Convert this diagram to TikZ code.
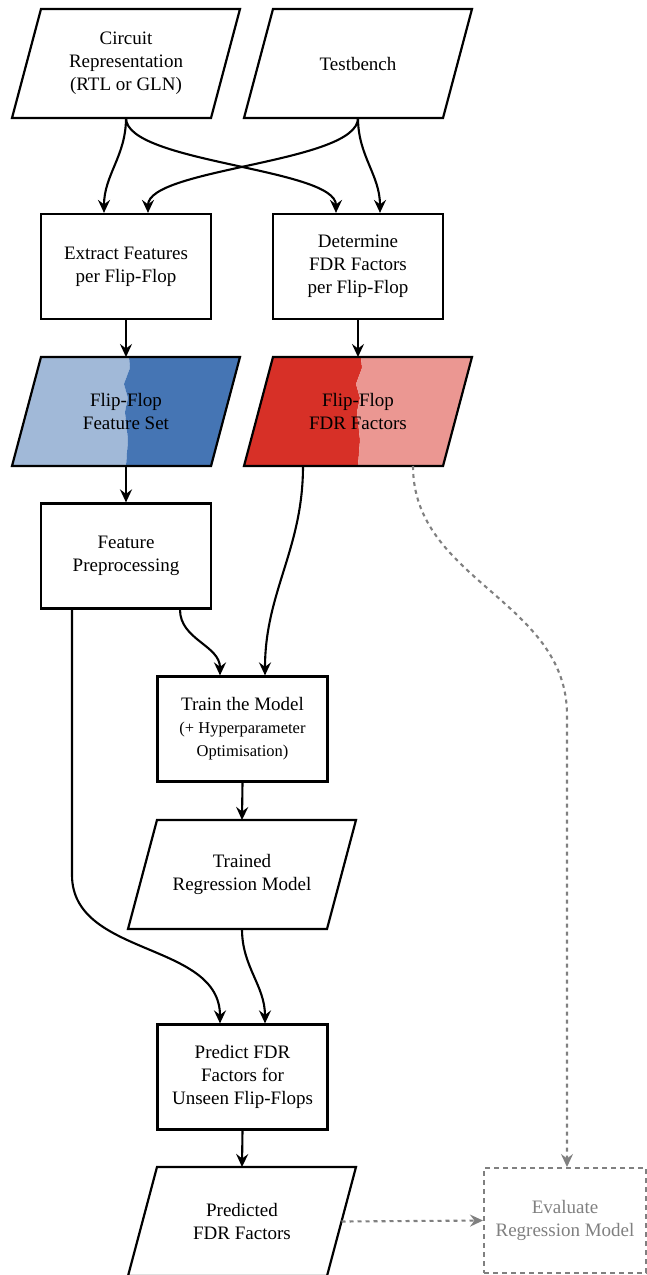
\documentclass[tikz,border=0pt]{standalone}
\usepackage{fontspec}
\setmainfont{Liberation Serif}
\usetikzlibrary{arrows.meta,calc,backgrounds}
\definecolor{lblue}{RGB}{161,185,216}
\definecolor{dblue}{RGB}{69,117,180}
\definecolor{dred}{RGB}{215,48,39}
\definecolor{lred}{RGB}{235,151,146}
\definecolor{evgray}{RGB}{128,128,128}
\newcommand\parashape[1]{([xshift=14.5pt]#1.north west) -- ([xshift=14.5pt]#1.north east) -- ([xshift=-14.5pt]#1.south east) -- ([xshift=-14.5pt]#1.south west) -- cycle}
\begin{document}
\begin{tikzpicture}[x=1pt,y=1pt,
  font=\fontsize{19}{23}\selectfont,
  procbox/.style={draw, line width=2.2pt, minimum width=170pt, minimum height=105pt, align=center, inner sep=0pt},
  evalbox/.style={draw=evgray, text=evgray, line width=2pt, dash pattern=on 5pt off 4pt, minimum width=162pt, minimum height=105pt, align=center, inner sep=0pt},
  iobox/.style={minimum width=199pt, minimum height=109pt, outer sep=0pt, inner sep=0pt, align=center},
  ioline/.style={line width=2.2pt, line join=miter},
  flow/.style={line width=2.1pt, -{Stealth[length=13pt,width=12pt,inset=4.5pt]}},
  evalflow/.style={line width=2.1pt, draw=evgray, dash pattern=on 4pt off 4pt, -{Stealth[length=13pt,width=12pt,inset=4.5pt,evgray]}}
]
\useasboundingbox (0,0) rectangle (646,-1275);

% input/output shapes
\node[iobox] (circ) at (126,-63.5) {Circuit\\Representation\\(RTL or GLN)};
\node[iobox] (tb) at (358,-63.5) {Testbench};
\node[iobox] (ffs) at (126,-411.5) {Flip-Flop\\Feature Set};
\node[iobox] (fdr) at (358,-411.5) {Flip-Flop\\FDR Factors};
\node[iobox] (model) at (242,-874.5) {Trained\\Regression Model};
\node[iobox] (pf) at (242,-1221.5) {Predicted\\FDR Factors};

% process boxes
\node[procbox] (ext) at (126,-266.5) {Extract Features\\per Flip-Flop};
\node[procbox] (det) at (358,-266.5) {Determine\\FDR Factors\\per Flip-Flop};
\node[procbox] (pre) at (126,-556) {Feature\\Preprocessing};
\node[procbox] (train) at (242.5,-729) {Train the Model\\{\fontsize{16.5}{23}\selectfont(+ Hyperparameter}\\{\fontsize{16.5}{23}\selectfont Optimisation)}};
\node[procbox] (pred) at (242.5,-1077) {Predict FDR\\Factors for\\Unseen Flip-Flops};
\node[evalbox] (eval) at (565,-1220.5) {Evaluate\\Regression Model};

% coloured fills
\begin{pgfonlayer}{background}
\fill[lblue] (41,-357) -- (129,-357) -- (130,-368) -- (124,-384) -- (128,-398) -- (125,-412) -- (128,-440) -- (126,-466) -- (12,-466) -- cycle;
\fill[dblue] (129,-357) -- (240,-357) -- (212,-466) -- (126,-466) -- (128,-440) -- (125,-412) -- (128,-398) -- (124,-384) -- (130,-368) -- cycle;
\fill[dred] (273,-357) -- (361,-357) -- (362,-368) -- (356,-384) -- (360,-398) -- (357,-412) -- (360,-440) -- (358,-466) -- (244,-466) -- cycle;
\fill[lred] (361,-357) -- (472,-357) -- (444,-466) -- (358,-466) -- (360,-440) -- (357,-412) -- (360,-398) -- (356,-384) -- (362,-368) -- cycle;
\end{pgfonlayer}

\draw[ioline] \parashape{circ};
\draw[ioline] \parashape{tb};
\draw[ioline] \parashape{ffs};
\draw[ioline] \parashape{fdr};
\draw[ioline] \parashape{model};
\draw[ioline] \parashape{pf};

% connectors
\draw[flow] (circ.south) to[out=-90,in=90] ([xshift=-22pt]ext.north);
\draw[flow] (circ.south) to[out=-90,in=90,looseness=0.5] ([xshift=-22pt]det.north);
\draw[flow] (tb.south) to[out=-90,in=90,looseness=0.5] ([xshift=22pt]ext.north);
\draw[flow] (tb.south) to[out=-90,in=90] ([xshift=22pt]det.north);
\draw[flow] (ext.south) -- (ffs.north);
\draw[flow] (det.south) -- (fdr.north);
\draw[flow] (ffs.south) -- (pre.north);
\draw[flow] ([xshift=-55pt]fdr.south) to[out=-90,in=90] ([xshift=22.5pt]train.north);
\draw[flow] ([xshift=54pt]pre.south) to[out=-90,in=90] ([xshift=-22.5pt]train.north);
\coordinate (prebend) at (72,-875);
\draw[flow] ([xshift=-54pt]pre.south) -- (prebend) to[out=-90,in=90] ([xshift=-22.5pt]pred.north);
\draw[flow] (train.south) -- (model.north);
\draw[flow] (model.south) to[out=-90,in=90] ([xshift=22.5pt]pred.north);
\draw[flow] (pred.south) -- (pf.north);
\coordinate (evbend) at (567,-715);
\draw[evalflow] ([xshift=55pt]fdr.south) to[out=-90,in=90] (evbend) -- (eval.north -| evbend);
\draw[evalflow] (pf.east) -- (eval.west);
\end{tikzpicture}
\end{document}
